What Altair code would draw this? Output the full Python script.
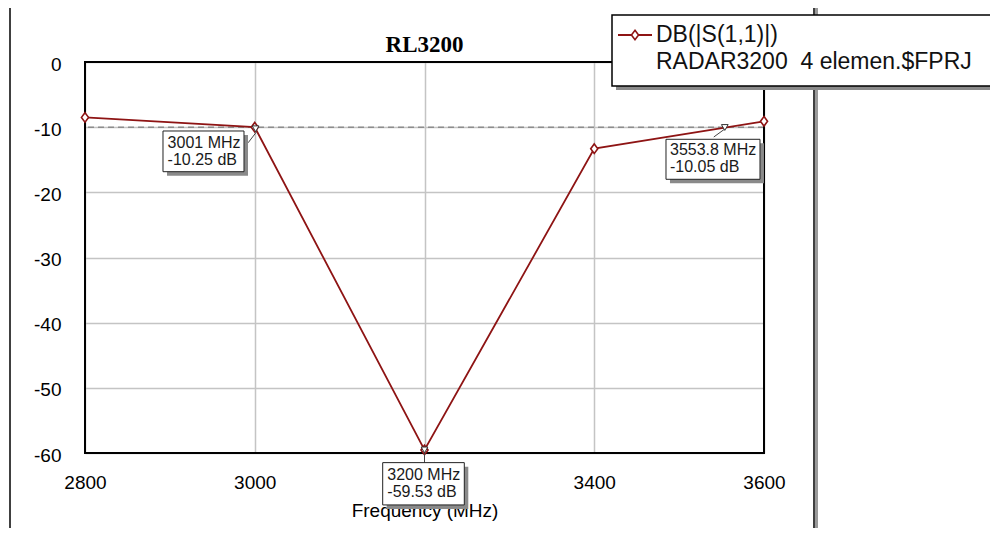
import altair as alt
import pandas as pd

# ---------------- data ----------------
freq = [2800, 3000, 3200, 3400, 3600]
db = [-8.5, -10.0, -59.53, -13.3, -9.1]

x_ticks = [2800, 3000, 3200, 3400, 3600]
y_ticks = [-60, -50, -40, -30, -20, -10, 0]
ref_level = [-10]

ann_freq = [3001, 3200, 3553.8]
ann_db = [-10.25, -59.53, -10.05]
ann_text = ["3001 MHz\n-10.25 dB", "3200 MHz\n-59.53 dB", "3553.8 MHz\n-10.05 dB"]

legend_lines = ["DB(|S(1,1)|)", "RADAR3200 \u00a04 elemen.$FPRJ"]
chart_title = ["RL3200"]
x_title = "Frequency (MHz)"

# ---------------- style / layout ----------------
RED = "#8E1414"
GRID = "#c4c4c4"
FONT = "Liberation Sans"
W, H = 679, 391
PAD = {"left": 77, "top": 54, "right": 226, "bottom": 75}

# annotation box layout (pixel offsets from the marker point)
# (box x0, box x1, box y0, box y1, text dx, text dy, ptr x0, ptr y0, ptr x1, ptr y1)
ann_layout = [
    (-92.6, -11.6, 2.2, 42.9, -88, 6.4, -7.5, 14, 1, 3),
    (-41.8, 39.8, 12.7, 55.0, -37.2, 16.7, 0, 2, 0, 12.7),
    (-58.8, 35.2, 11.8, 51.8, -54.8, 14.9, -11, 9.5, 0, 1.5),
]

DIAMOND = "M0,-1L0.75,0L0,1L-0.75,0Z"

xaxis = alt.Axis(values=x_ticks, title=x_title, grid=True, gridColor=GRID, gridWidth=1.5,
                 domain=False, ticks=False, tickSize=0, labelFont=FONT, labelFontSize=19,
                 labelColor="black", labelPadding=20, labelFlush=False, labelOverlap=False,
                 labelExpr="'' + datum.value",
                 titleFont=FONT, titleFontSize=19, titleFontWeight="normal", titleColor="black",
                 titlePadding=9)
yaxis = alt.Axis(values=y_ticks, title=None, grid=True, gridColor=GRID, gridWidth=1.5,
                 domain=False, ticks=False, tickSize=0, labelFont=FONT, labelFontSize=19,
                 labelColor="black", labelPadding=24, labelFlush=False, labelOverlap=False,
                 labelExpr="'' + datum.value", labelOffset=2)

xs = alt.Scale(domain=[x_ticks[0], x_ticks[-1]], nice=False, zero=False)
ys = alt.Scale(domain=[y_ticks[0], y_ticks[-1]], nice=False, zero=False)

X = alt.X("Frequency:Q", scale=xs, axis=xaxis)
Y = alt.Y("dB:Q", scale=ys, axis=yaxis)

df = pd.DataFrame({"Frequency": freq, "dB": db})
one = pd.DataFrame({"k": [0]})

layers = []

# reference dashed line at -10 dB
layers.append(
    alt.Chart(pd.DataFrame({"dB": ref_level})).mark_rule(
        stroke="#8c8c8c", strokeDash=[6, 4], strokeWidth=1.5
    ).encode(y=Y)
)

# plot border
def rule(x, y, x2=None, y2=None, color="black", w=2):
    enc = {"x": alt.value(x), "y": alt.value(y)}
    if x2 is not None:
        enc["x2"] = alt.value(x2)
    if y2 is not None:
        enc["y2"] = alt.value(y2)
    return alt.Chart(one).mark_rule(stroke=color, strokeWidth=w, strokeCap="square").encode(**enc)

layers += [
    rule(0, 0, x2=W),
    rule(0, H, x2=W),
    rule(0, 0, y2=H),
    rule(W, 0, y2=H),
]

# title
layers.append(
    alt.Chart(pd.DataFrame({"t": chart_title})).mark_text(
        font="Liberation Serif", fontSize=23, fontWeight="bold", color="black",
        align="center", baseline="alphabetic"
    ).encode(x=alt.value(W / 2), y=alt.value(-10), text="t:N")
)

# data line + markers
layers.append(alt.Chart(df).mark_line(color=RED, strokeWidth=1.8).encode(x=X, y=Y))
layers.append(
    alt.Chart(df).mark_point(shape=DIAMOND, size=90, filled=True, fill="white",
                             stroke=RED, strokeWidth=1.6, opacity=1).encode(x=X, y=Y)
)

# marker annotations
for f, d, t, lay in zip(ann_freq, ann_db, ann_text, ann_layout):
    bx0, bx1, by0, by1, tdx, tdy, px0, py0, px1, py1 = lay
    a = pd.DataFrame({"Frequency": [f], "dB": [d], "label": [t]})
    base = alt.Chart(a)
    layers.append(
        base.mark_rule(stroke="#444", strokeWidth=1, xOffset=px0, x2Offset=px1,
                       yOffset=py0, y2Offset=py1)
        .encode(x=X, x2=alt.X2("Frequency"), y=Y, y2=alt.Y2("dB"))
    )
    layers.append(
        base.mark_point(shape="triangle-down", size=45, filled=True, fill="white",
                        stroke="#333", strokeWidth=1, opacity=1).encode(x=X, y=Y)
    )
    layers.append(
        base.mark_rect(fill="#8a8a8a", xOffset=bx0 + 4, x2Offset=bx1 + 4,
                       yOffset=by0 + 4, y2Offset=by1 + 4)
        .encode(x=X, x2=alt.X2("Frequency"), y=Y, y2=alt.Y2("dB"))
    )
    layers.append(
        base.mark_rect(fill="white", stroke="#222", strokeWidth=1, xOffset=bx0, x2Offset=bx1,
                       yOffset=by0, y2Offset=by1)
        .encode(x=X, x2=alt.X2("Frequency"), y=Y, y2=alt.Y2("dB"))
    )
    layers.append(
        base.mark_text(align="left", baseline="top", lineBreak="\n", lineHeight=17,
                       font=FONT, fontSize=16, color="#1a1a1a", dx=tdx, dy=tdy)
        .encode(x=X, y=Y, text="label:N")
    )

# outer frame
BOT = H + 120
layers += [
    rule(-75, -55, x2=729, w=1.5),
    rule(-75, -55, y2=BOT, w=1.5),
    rule(731.5, -53, y2=BOT, color="#9a9a9a", w=3),
    rule(729, -55, y2=BOT, w=1.5),
]

# legend box
layers.append(
    alt.Chart(one).mark_rect(fill="#8a8a8a").encode(
        x=alt.value(531), x2=alt.value(1000), y=alt.value(-43), y2=alt.value(28))
)
layers.append(
    alt.Chart(one).mark_rect(fill="white", stroke="black", strokeWidth=1.5).encode(
        x=alt.value(527), x2=alt.value(1000), y=alt.value(-47), y2=alt.value(24))
)
layers.append(
    alt.Chart(one).mark_rule(stroke=RED, strokeWidth=1.8).encode(
        x=alt.value(533), x2=alt.value(567), y=alt.value(-27))
)
layers.append(
    alt.Chart(one).mark_point(shape=DIAMOND, size=90, filled=True, fill="white",
                              stroke=RED, strokeWidth=1.6, opacity=1).encode(
        x=alt.value(550), y=alt.value(-27))
)
for i, line in enumerate(legend_lines):
    layers.append(
        alt.Chart(one).mark_text(align="left", baseline="middle", font=FONT, fontSize=23,
                                 color="#111").encode(
            x=alt.value(571), y=alt.value(-27 + 27 * i), text=alt.value(line))
    )

chart = alt.layer(*layers).properties(
    width=W, height=H,
    padding=PAD,
    autosize=alt.AutoSizeParams(type="none"),
).configure_view(stroke="transparent", strokeWidth=0).configure(background="white")

chart.save("out.html", embed_options={"renderer": "svg", "actions": False})
